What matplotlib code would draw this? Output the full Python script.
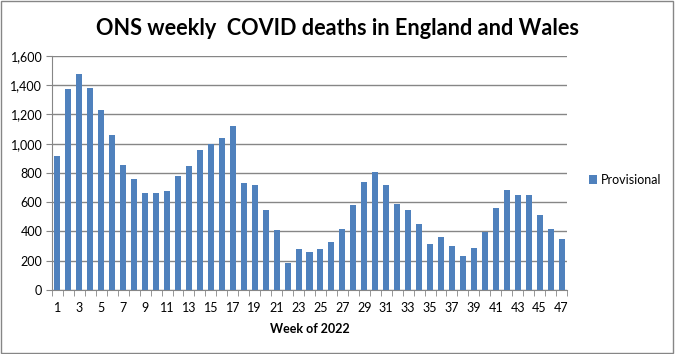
import matplotlib
matplotlib.use("Agg")
import matplotlib.pyplot as plt
from matplotlib.patches import Rectangle
from matplotlib.ticker import FuncFormatter, FixedLocator

# Week numbers and provisional weekly COVID deaths (England and Wales, 2022)
weeks = list(range(1, 48))
deaths = [
    918, 1376, 1478, 1383, 1232, 1062, 856, 760, 664, 664,
    678, 781, 849, 958, 998, 1040, 1122, 731, 717, 548,
    410, 187, 281, 261, 281, 329, 418, 583, 740, 808,
    717, 589, 548, 452, 315, 363, 301, 233, 288, 399,
    562, 686, 652, 652, 514, 418, 350,
]
series_name = "Provisional"
title = "ONS weekly  COVID deaths in England and Wales"
xlabel = "Week of 2022"

BAR = "#4F81BD"
GRID = "#868686"

plt.rcParams["font.family"] = ["Lato", "DejaVu Sans"]

fig = plt.figure(figsize=(6.75, 3.54), dpi=100)
ax = fig.add_axes([0.077, 0.181, 0.763, 0.661])

ax.bar(weeks, deaths, width=0.55, color=BAR, label=series_name, zorder=3)

ax.set_xlim(0.5, 47.5)
ax.set_ylim(0, 1600)
ax.set_yticks(range(0, 1601, 200))
ax.yaxis.set_major_formatter(FuncFormatter(lambda v, p: f"{int(v):,}"))
ax.grid(axis="y", color=GRID, linewidth=1.0, zorder=0)

# labels on odd weeks, tick marks between categories
ax.xaxis.set_major_locator(FixedLocator(weeks[::2]))
ax.xaxis.set_minor_locator(FixedLocator([w + 0.5 for w in range(0, 48)]))
ax.tick_params(axis="x", which="major", length=0, pad=9, labelsize=9)
ax.tick_params(axis="x", which="minor", length=4, color=GRID, direction="out")
ax.tick_params(axis="y", length=4, color=GRID, labelsize=9, pad=3)

for s in ["top", "right"]:
    ax.spines[s].set_visible(False)
for s in ["left", "bottom"]:
    ax.spines[s].set_color(GRID)

ax.set_xlabel(xlabel, fontsize=9, fontweight="bold", labelpad=6)
fig.text(0.5, 0.92, title, ha="center", va="center",
         fontsize=15.6, fontweight="bold")

ax.legend(loc="center left", bbox_to_anchor=(1.02, 0.47), frameon=False,
          fontsize=9, handlelength=0.7, handleheight=0.7, handletextpad=0.3)

fig.patches.append(Rectangle((0.002, 0.003), 0.995, 0.993, transform=fig.transFigure,
                             fill=False, edgecolor=GRID, linewidth=1.0))

fig.savefig("out.png", dpi=100)
